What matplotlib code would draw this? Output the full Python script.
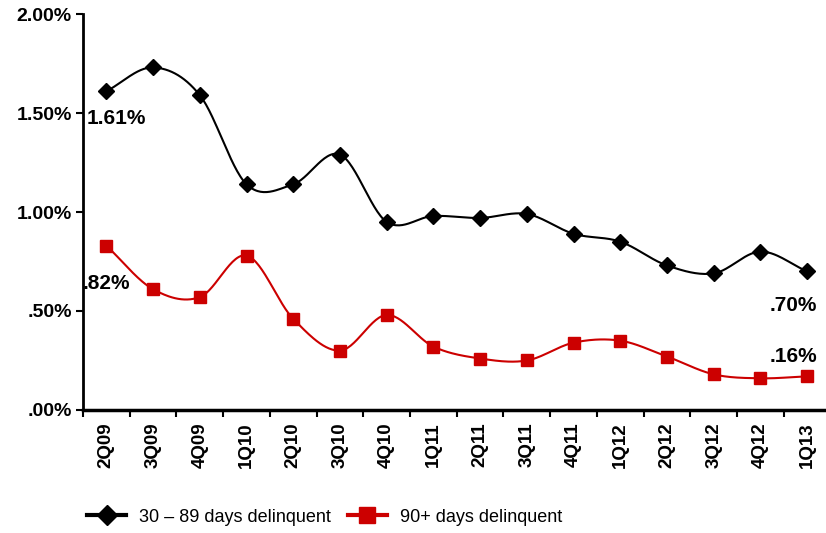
import matplotlib
matplotlib.use("Agg")
import matplotlib.pyplot as plt
import numpy as np
from matplotlib import font_manager
from matplotlib.lines import Line2D


QUARTERS = ["2Q09", "3Q09", "4Q09", "1Q10", "2Q10", "3Q10", "4Q10", "1Q11",
            "2Q11", "3Q11", "4Q11", "1Q12", "2Q12", "3Q12", "4Q12", "1Q13"]
DAYS_30_89 = [1.61, 1.73, 1.59, 1.14, 1.14, 1.29, 0.95, 0.98,
              0.97, 0.99, 0.89, 0.85, 0.73, 0.69, 0.80, 0.70]
DAYS_90_PLUS = [0.83, 0.61, 0.57, 0.78, 0.46, 0.30, 0.48, 0.32,
                0.26, 0.25, 0.34, 0.35, 0.27, 0.18, 0.16, 0.17]
Y_TICKS = [0.0, 0.5, 1.0, 1.5, 2.0]
Y_TICK_LABELS = [".00%", ".50%", "1.00%", "1.50%", "2.00%"]

BOLD = ["Liberation Sans", "DejaVu Sans"]
RED = "#cc0000"


def narrow_family():
    names = {f.name for f in font_manager.fontManager.ttflist}
    for name in ("Liberation Sans Narrow", "DejaVu Sans Condensed"):
        if name in names:
            return name
    return None


def smooth(x, y, steps=30):
    # catmull-rom spline through the points, roughly what Excel's smoothed line does
    x = np.asarray(x, dtype=float)
    y = np.asarray(y, dtype=float)
    px = np.concatenate([[2 * x[0] - x[1]], x, [2 * x[-1] - x[-2]]])
    py = np.concatenate([[2 * y[0] - y[1]], y, [2 * y[-1] - y[-2]]])
    xs, ys = [], []
    t = np.linspace(0, 1, steps, endpoint=False)
    for i in range(1, len(px) - 2):
        for p, out in ((px, xs), (py, ys)):
            p0, p1, p2, p3 = p[i - 1], p[i], p[i + 1], p[i + 2]
            out.append(0.5 * ((2 * p1) + (-p0 + p2) * t
                              + (2 * p0 - 5 * p1 + 4 * p2 - p3) * t ** 2
                              + (-p0 + 3 * p1 - 3 * p2 + p3) * t ** 3))
    xs.append([x[-1]])
    ys.append([y[-1]])
    return np.concatenate(xs), np.concatenate(ys)


def main():
    fig = plt.figure(figsize=(8.26, 5.33), dpi=100)
    ax = fig.add_axes([0.1005, 0.2308, 0.905, 0.7429])

    pos = np.arange(len(QUARTERS))

    sx, sy = smooth(pos, DAYS_30_89)
    ax.plot(sx, sy, color="black", lw=1.5, zorder=3)
    ax.plot(pos, DAYS_30_89, ls="none", marker="D", ms=8, color="black", zorder=4)

    sx, sy = smooth(pos, DAYS_90_PLUS)
    ax.plot(sx, sy, color=RED, lw=1.5, zorder=3)
    ax.plot(pos, DAYS_90_PLUS, ls="none", marker="s", ms=9, color=RED, zorder=4)

    ax.text(-0.42, DAYS_30_89[0] - 0.14, "1.61%", fontsize=15, fontweight="bold",
            family=BOLD, ha="left", va="center")
    ax.text(-0.5, DAYS_90_PLUS[0] - 0.19, ".82%", fontsize=15, fontweight="bold",
            family=BOLD, ha="left", va="center")
    ax.text(15.22, DAYS_30_89[-1] - 0.17, ".70%", fontsize=15, fontweight="bold",
            family=BOLD, ha="right", va="center")
    ax.text(15.22, DAYS_90_PLUS[-1] + 0.1, ".16%", fontsize=15, fontweight="bold",
            family=BOLD, ha="right", va="center")

    ax.set_xlim(-0.5, 15.5)
    ax.set_ylim(0, 2.0)

    ax.set_yticks(Y_TICKS)
    ax.set_yticklabels(Y_TICK_LABELS, fontsize=14, fontweight="bold", family=BOLD)
    ax.tick_params(axis="y", length=5, width=1.5, pad=3)

    ax.set_xticks(pos)
    ax.set_xticklabels(QUARTERS, rotation=90, fontsize=13.5, fontweight="bold", family=BOLD)
    ax.set_xticks(np.arange(-0.5, 16, 1.0), minor=True)
    ax.tick_params(axis="x", which="major", length=0, pad=9)
    ax.tick_params(axis="x", which="minor", length=5, width=1.5)

    for side in ("top", "right"):
        ax.spines[side].set_visible(False)
    ax.spines["left"].set_linewidth(2)
    ax.spines["bottom"].set_linewidth(2.5)

    narrow = narrow_family()
    if narrow:
        legend_font = {"family": narrow, "size": 15}
    else:
        legend_font = {"family": ["Liberation Sans"], "size": 13}

    handles = [
        Line2D([], [], color="black", lw=3, marker="D", ms=10),
        Line2D([], [], color=RED, lw=3, marker="s", ms=11),
    ]
    fig.legend(handles, ["30 \u2013 89 days delinquent", "90+ days delinquent"],
               loc="center left", bbox_to_anchor=(0.105, 0.03), ncol=2, frameon=False,
               borderpad=0, borderaxespad=0,
               handlelength=2.2, columnspacing=0.9, handletextpad=0.72,
               prop=legend_font)

    fig.savefig("out.png", dpi=100)
    plt.close(fig)


if __name__ == "__main__":
    main()
